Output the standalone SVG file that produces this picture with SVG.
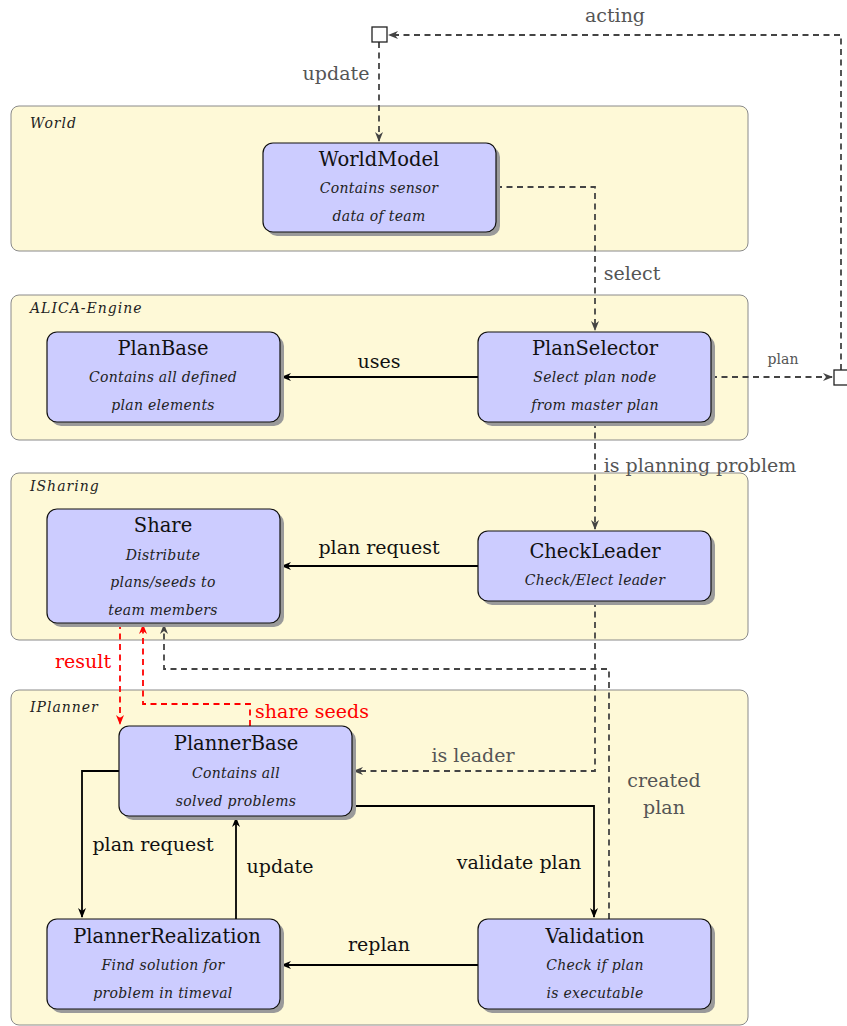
<svg xmlns="http://www.w3.org/2000/svg" width="847" height="1026" viewBox="0 0 847 1026">
<style>
.cont{fill:#fef9d7;stroke:#8a8a8a;stroke-width:1}
.clab{font-family:"DejaVu Serif","Liberation Serif",serif;font-style:italic;font-size:14px;fill:#222;letter-spacing:1px}
.sh{fill:#9a9a9a}
.nd{fill:#ccccff;stroke:#111;stroke-width:1.2}
.tt{font-family:"DejaVu Serif","Liberation Serif",serif;font-size:19.5px;fill:#111;text-anchor:middle}
.st{font-family:"DejaVu Serif","Liberation Serif",serif;font-style:italic;font-size:14px;fill:#222;text-anchor:middle;letter-spacing:0.3px}
.dg{fill:none;stroke:#444;stroke-width:1.8;stroke-dasharray:6,4.5}
.dr{fill:none;stroke:#f00;stroke-width:1.8;stroke-dasharray:6,4.5}
.sl{fill:none;stroke:#000;stroke-width:1.8}
.lg{font-family:"DejaVu Serif","Liberation Serif",serif;font-size:19px;fill:#555;text-anchor:middle}
.lb{font-family:"DejaVu Serif","Liberation Serif",serif;font-size:19px;fill:#111;text-anchor:middle}
.lr{font-family:"DejaVu Serif","Liberation Serif",serif;font-size:19px;fill:#f00;text-anchor:middle}
.sq{fill:#fff;stroke:#222;stroke-width:1.3}
</style>
<defs>
<marker id="ag" viewBox="0 0 10 10" refX="9" refY="5" markerWidth="10" markerHeight="10" markerUnits="userSpaceOnUse" orient="auto"><path d="M0,1 L10,5 L0,9 L3,5 Z" fill="#444"/></marker>
<marker id="ab" viewBox="0 0 10 10" refX="9" refY="5" markerWidth="10" markerHeight="10" markerUnits="userSpaceOnUse" orient="auto"><path d="M0,1 L10,5 L0,9 L3,5 Z" fill="#000"/></marker>
<marker id="ar" viewBox="0 0 10 10" refX="9" refY="5" markerWidth="10" markerHeight="10" markerUnits="userSpaceOnUse" orient="auto"><path d="M0,1 L10,5 L0,9 L3,5 Z" fill="#f00"/></marker>
</defs>
<rect width="847" height="1026" fill="#fff"/>
<g id="containers">
<g id="world"><rect class="cont" x="11" y="106" width="737" height="145" rx="8"/><text class="clab" x="30" y="128">World</text></g>
<g id="alica"><rect class="cont" x="11" y="295" width="737" height="145" rx="8"/><text class="clab" x="30" y="313">ALICA-Engine</text></g>
<g id="isharing"><rect class="cont" x="11" y="473" width="737" height="167" rx="8"/><text class="clab" x="30" y="491">ISharing</text></g>
<g id="iplanner"><rect class="cont" x="11" y="690" width="737" height="335" rx="8"/><text class="clab" x="30" y="712">IPlanner</text></g>
</g>
<g id="connectors">
<path class="dg" d="M841,370 V35 H389" marker-end="url(#ag)"/>
<text class="lg" x="615" y="22">acting</text>
<path class="dg" d="M379,42 V141" marker-end="url(#ag)"/>
<text class="lg" x="336" y="80">update</text>
<path class="dg" d="M496,187 H595 V330" marker-end="url(#ag)"/>
<text class="lg" x="632" y="280">select</text>
<path class="dg" d="M711,377 H832" marker-end="url(#ag)"/>
<text class="lg" x="783" y="364" style="font-size:14px">plan</text>
<path class="sl" d="M478,377 H282" marker-end="url(#ab)"/>
<text class="lb" x="379" y="368">uses</text>
<path class="dg" d="M595,422 V529" marker-end="url(#ag)"/>
<text class="lg" x="700" y="472">is planning problem</text>
<path class="sl" d="M478,566 H282" marker-end="url(#ab)"/>
<text class="lb" x="379" y="554">plan request</text>
<path class="dr" d="M120,623 V724" marker-end="url(#ar)"/>
<text class="lr" x="83" y="668">result</text>
<path class="dr" d="M250,726 V704 H143 V625" marker-end="url(#ar)"/>
<text class="lr" x="312" y="718">share seeds</text>
<path class="dg" d="M609,919 V669 H164 V625" marker-end="url(#ag)"/>
<text class="lg" x="664" y="787">created</text>
<text class="lg" x="664" y="814">plan</text>
<path class="dg" d="M595,601 V771 H354" marker-end="url(#ag)"/>
<text class="lg" x="473" y="762">is leader</text>
<path class="sl" d="M352,806 H594 V917" marker-end="url(#ab)"/>
<text class="lb" x="519" y="869">validate plan</text>
<path class="sl" d="M119,771 H82 V917" marker-end="url(#ab)"/>
<text class="lb" x="153" y="851">plan request</text>
<path class="sl" d="M236,919 V818" marker-end="url(#ab)"/>
<text class="lb" x="280" y="873">update</text>
<path class="sl" d="M478,965 H282" marker-end="url(#ab)"/>
<text class="lb" x="379" y="951">replan</text>
</g>
<g id="sq-top"><rect class="sq" x="372" y="27" width="15" height="15"/></g>
<g id="sq-right"><rect class="sq" x="834" y="370" width="15" height="15"/></g>
<g id="WorldModel"><rect class="sh" x="267" y="147" width="233" height="89" rx="10"/><rect class="nd" x="263" y="143" width="233" height="89" rx="10"/><text class="tt" x="379" y="166">WorldModel</text><text class="st" x="379" y="193">Contains sensor</text><text class="st" x="379" y="221">data of team</text></g>
<g id="PlanBase"><rect class="sh" x="51" y="336" width="233" height="90" rx="10"/><rect class="nd" x="47" y="332" width="233" height="90" rx="10"/><text class="tt" x="163" y="355">PlanBase</text><text class="st" x="163" y="382">Contains all defined</text><text class="st" x="163" y="410">plan elements</text></g>
<g id="PlanSelector"><rect class="sh" x="482" y="336" width="233" height="90" rx="10"/><rect class="nd" x="478" y="332" width="233" height="90" rx="10"/><text class="tt" x="595" y="355">PlanSelector</text><text class="st" x="595" y="382">Select plan node</text><text class="st" x="595" y="410">from master plan</text></g>
<g id="Share"><rect class="sh" x="51" y="513" width="233" height="114" rx="10"/><rect class="nd" x="47" y="509" width="233" height="114" rx="10"/><text class="tt" x="163" y="532">Share</text><text class="st" x="163" y="560">Distribute</text><text class="st" x="163" y="587">plans/seeds to</text><text class="st" x="163" y="615">team members</text></g>
<g id="CheckLeader"><rect class="sh" x="482" y="535" width="233" height="70" rx="10"/><rect class="nd" x="478" y="531" width="233" height="70" rx="10"/><text class="tt" x="595" y="558">CheckLeader</text><text class="st" x="595" y="585">Check/Elect leader</text></g>
<g id="PlannerBase"><rect class="sh" x="123" y="730" width="233" height="90" rx="10"/><rect class="nd" x="119" y="726" width="233" height="90" rx="10"/><text class="tt" x="236" y="750">PlannerBase</text><text class="st" x="236" y="778">Contains all</text><text class="st" x="236" y="806">solved problems</text></g>
<g id="PlannerRealization"><rect class="sh" x="51" y="923" width="233" height="90" rx="10"/><rect class="nd" x="47" y="919" width="233" height="90" rx="10"/><text class="tt" x="167" y="943">PlannerRealization</text><text class="st" x="163" y="970">Find solution for</text><text class="st" x="163" y="998">problem in timeval</text></g>
<g id="Validation"><rect class="sh" x="482" y="923" width="233" height="90" rx="10"/><rect class="nd" x="478" y="919" width="233" height="90" rx="10"/><text class="tt" x="595" y="943">Validation</text><text class="st" x="595" y="970">Check if plan</text><text class="st" x="595" y="998">is executable</text></g>
</svg>
